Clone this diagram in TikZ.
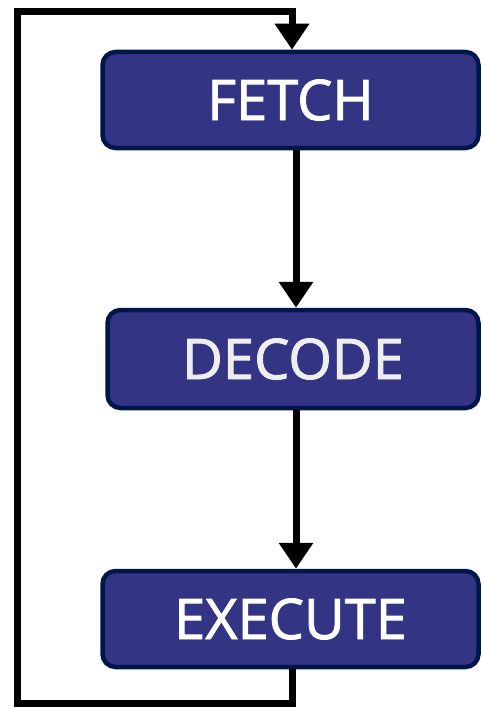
\documentclass[tikz,border=0pt]{standalone}
\usepackage{fontspec}
\setmainfont{Open Sans}
\newfontfamily\stagefont{Open Sans}[FakeBold=1.6]
\usetikzlibrary{arrows.meta,calc}
\definecolor{boxfill}{RGB}{52,52,132}
\definecolor{boxline}{RGB}{0,22,74}
\definecolor{softwhite}{RGB}{238,238,238}
\newcommand{\stagetext}[1]{\raisebox{-4pt}{#1}}
\begin{document}
\begin{tikzpicture}[x=1pt,y=-1pt,
  stagebox/.style={draw=boxline, fill=boxfill, line width=4.5pt, rounded corners=13pt,
    minimum height=96pt, inner sep=0pt, text=white,
    font=\stagefont\fontsize{56}{62}\selectfont},
  flow/.style={line width=7pt, -{Triangle[width=33pt,length=26pt]}}]
  \useasboundingbox (0,0) rectangle (482,709);
  % the three stages
  \node[stagebox, minimum width=376pt] (fetch) at (290.5,100) {\stagetext{FETCH}};
  \node[stagebox, minimum width=371pt, minimum height=98pt, text=softwhite] (decode) at (293,359) {\stagetext{DECODE}};
  \node[stagebox, minimum width=376pt] (execute) at (290.5,619) {\stagetext{EXECUTE}};
  % forward arrows
  \coordinate (ax) at (296,0);
  \draw[flow] (fetch.south -| ax) -- (decode.north -| ax);
  \draw[flow] (decode.south -| ax) -- (execute.north -| ax);
  % loop back from execute to fetch
  \coordinate (lx) at (292,0);
  \coordinate (bl) at (17,703);
  \coordinate (tl) at (17,12);
  \draw[flow, line join=miter]
    (execute.south -| lx) -- (bl -| lx) -- (bl) -- (tl) -- (tl -| lx) -- (fetch.north -| lx);
\end{tikzpicture}
\end{document}
